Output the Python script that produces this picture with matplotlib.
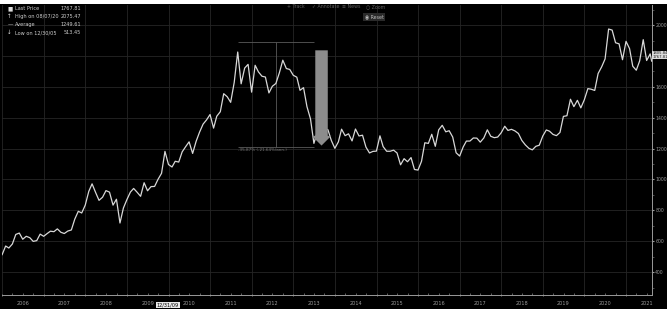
import matplotlib
matplotlib.use('Agg')
import matplotlib.pyplot as plt
import matplotlib.dates as mdates
from matplotlib.ticker import MultipleLocator, FuncFormatter, NullFormatter
from matplotlib.patches import Rectangle
import pandas as pd

# monthly closes, Dec 2005 .. Aug 2021
price = [513,
         569, 556, 582, 644, 653, 613, 632, 623, 599, 604, 646, 632,
         650, 665, 662, 680, 658, 650, 666, 673, 743, 794, 783, 834,
         923, 972, 916, 865, 885, 928, 918, 834, 872, 718, 815, 870,
         919, 942, 917, 891, 979, 927, 954, 955, 1001, 1040, 1182, 1097,
         1081, 1118, 1113, 1179, 1213, 1244, 1169, 1248, 1307, 1359, 1386, 1421,
         1333, 1410, 1439, 1556, 1536, 1500, 1628, 1826, 1620, 1722, 1746, 1566,
         1740, 1697, 1669, 1664, 1561, 1604, 1622, 1692, 1773, 1719, 1713, 1675,
         1663, 1578, 1595, 1472, 1393, 1234, 1312, 1396, 1327, 1323, 1253, 1202,
         1244, 1326, 1284, 1296, 1250, 1327, 1282, 1287, 1210, 1172, 1182, 1184,
         1283, 1213, 1183, 1183, 1190, 1172, 1095, 1135, 1115, 1142, 1065, 1061,
         1118, 1238, 1234, 1293, 1215, 1322, 1351, 1309, 1316, 1275, 1173, 1152,
         1211, 1249, 1249, 1269, 1268, 1242, 1269, 1322, 1280, 1271, 1275, 1303,
         1345, 1318, 1325, 1315, 1298, 1253, 1224, 1202, 1192, 1215, 1222, 1282,
         1321, 1313, 1292, 1284, 1305, 1409, 1413, 1520, 1472, 1513, 1464, 1517,
         1589, 1585, 1577, 1687, 1730, 1781, 1975, 1968, 1886, 1879, 1776, 1895,
         1848, 1734, 1708, 1769, 1906, 1771, 1814, 1767]
dates = list(pd.date_range('2005-12-31', periods=len(price), freq='ME'))
dates[-1] = pd.Timestamp('2021-08-13')

legend_rows = [("■", "Last Price", "1767.81"),
               ("↑", "High on 08/07/20", "2075.47"),
               ("—", "Average", "1249.61"),
               ("↓", "Low on 12/30/05", "513.45")]

# drawdown measurement (Sep 2011 peak -> Jun 2013)
dd_start, dd_end = pd.Timestamp('2011-09-05'), pd.Timestamp('2013-06-28')
dd_mid = pd.Timestamp('2012-08-01')
dd_hi = 1889.7
dd_pct = -35.87
dd_lo = dd_hi * (1 + dd_pct / 100)
dd_label = "-35.87% (-21.64%/ann.)"
arrow_date = pd.Timestamp('2013-09-05')
arrow_top = 1855

fig = plt.figure(figsize=(6.67, 3.09), dpi=100, facecolor='black')
ax = fig.add_axes([0.003, 0.045, 0.9745, 0.94])
ax.set_facecolor('black')

ax.plot(dates, price, color='#d8d8d8', lw=0.9, zorder=3)

ax.set_xlim(pd.Timestamp('2005-12-30'), pd.Timestamp('2021-08-16'))
ax.set_ylim(251, 2133)

# axes / ticks
ax.yaxis.tick_right()
ax.yaxis.set_minor_locator(MultipleLocator(100))
ax.set_yticks(range(400, 2001, 200))
ax.tick_params(axis='y', which='major', colors='#9a9a9a', labelsize=3.3,
               length=1.5, width=0.8, pad=0.8)
ax.tick_params(axis='y', which='minor', colors='#6a6a6a', length=1.2, width=0.5)

ax.xaxis.set_major_locator(mdates.YearLocator())
ax.xaxis.set_major_formatter(NullFormatter())
ax.xaxis.set_minor_locator(mdates.MonthLocator(bymonth=[4, 7, 10]))
ax.xaxis.set_minor_formatter(FuncFormatter(
    lambda v, p: mdates.num2date(v).strftime('%Y') if mdates.num2date(v).month == 7 else ''))
ax.tick_params(axis='x', which='major', colors='#8a8a8a', length=2, width=0.6,
               direction='inout')
ax.tick_params(axis='x', which='minor', colors='#8a8a8a', labelsize=3.6, length=1.5,
               width=0.5, direction='in', pad=4, labelcolor='#9a9a9a')

for s in ['left', 'top']:
    ax.spines[s].set_visible(False)
for s in ['right', 'bottom']:
    ax.spines[s].set_color('#9a9a9a')
    ax.spines[s].set_linewidth(0.7)

ax.grid(True, which='major', color='#262626', lw=0.6, zorder=0)

# drawdown box
ax.hlines([dd_hi, dd_lo], dd_start, dd_end, color='#5a5a5a', lw=0.6, zorder=2)
ax.vlines(dd_mid, dd_lo, dd_hi, color='#5a5a5a', lw=0.6, zorder=2)
ax.text(dd_start, dd_lo - 8, dd_label, color='#7a7a7a', fontsize=3, va='top', ha='left')
ax.annotate('', xy=(arrow_date, dd_lo - 10), xytext=(arrow_date, arrow_top),
            arrowprops=dict(arrowstyle='simple,head_width=1.4,head_length=0.7,tail_width=0.9',
                            color='#8c8c8c', lw=0), zorder=4)

# legend block
for i, (mk, name, val) in enumerate(legend_rows):
    y = 0.972 - i * 0.026
    fig.text(0.011, y, mk, color='#dddddd', fontsize=4, va='center', ha='left')
    fig.text(0.022, y, name, color='#cfcfcf', fontsize=3.6, va='center', ha='left')
    fig.text(0.121, y, val, color='#cfcfcf', fontsize=3.6, va='center', ha='right')

# toolbar
fig.text(0.430, 0.978, "+ Track", color='#5e5e5e', fontsize=3.4, va='center')
fig.text(0.468, 0.978, "✓ Annotate", color='#5e5e5e', fontsize=3.4, va='center')
fig.text(0.512, 0.978, "≡ News", color='#5e5e5e', fontsize=3.4, va='center')
fig.text(0.548, 0.978, "○ Zoom", color='#5e5e5e', fontsize=3.4, va='center')
fig.text(0.547, 0.945, "◉ Reset", color='#bdbdbd', fontsize=3.4, va='center',
         bbox=dict(boxstyle='square,pad=0.3', fc='#2a2a2a', ec='none'))

# date flag on x axis
fig.text(0.252, 0.013, "12/31/09", color='black', fontsize=3.6, va='center', ha='center',
         bbox=dict(boxstyle='square,pad=0.15', fc='#e8e8e8', ec='none'))

# price tag on right axis (covers the 1800 label, as in the source)
fig.text(0.978, 0.822, "1805.84\n1767.81", color='#202020', fontsize=2.7, va='center',
         ha='left', linespacing=1.0,
         bbox=dict(boxstyle='square,pad=0.1', fc='#d8d8d8', ec='none'))

# white strip along the top
fig.patches.append(Rectangle((0, 1 - 4 / 309), 1, 4 / 309, transform=fig.transFigure,
                             fc='white', ec='none', zorder=10))

fig.savefig('out.png', dpi=100, facecolor='black')
